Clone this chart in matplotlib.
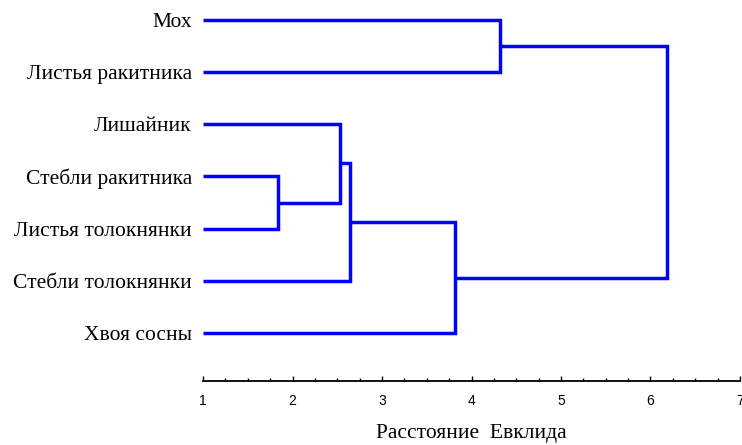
import numpy as np
import matplotlib.pyplot as plt
from matplotlib.ticker import MultipleLocator

### Data
labels = ['Мох', 'Листья ракитника', 'Лишайник', 'Стебли ракитника',
          'Листья толокнянки', 'Стебли толокнянки', 'Хвоя сосны']
# merge steps: (node a, node b, distance); new nodes get ids 7, 8, ...
merge_a = [3, 2, 8, 9, 0, 11]
merge_b = [4, 7, 5, 6, 1, 10]
merge_dist = [1.84, 2.53, 2.64, 3.82, 4.32, 6.18]

x_min, x_max = 1, 7

### Figure
fig = plt.figure(figsize=(7.42, 4.45), dpi=100)
ax = fig.add_axes([0.2736, 0.1438, 0.7237, 0.8465])

# leaf positions top to bottom, leaves start at the left edge of the axis
node_y = list(range(len(labels)))
node_x = [x_min] * len(labels)

for a, b, d in zip(merge_a, merge_b, merge_dist):
    ax.plot([node_x[a], d, d, node_x[b]], [node_y[a], node_y[a], node_y[b], node_y[b]],
            color='#0000ff', lw=2.5, solid_capstyle='butt', solid_joinstyle='miter')
    node_y.append((node_y[a] + node_y[b]) / 2)
    node_x.append(d)

ax.set_xlim(x_min, x_max)
ax.set_ylim(6.92, -0.3)

ax.set_yticks(range(len(labels)))
ax.set_yticklabels(labels, family='Liberation Serif', fontsize=15.5)
ax.tick_params(axis='y', length=0, pad=8)

ax.xaxis.set_major_locator(MultipleLocator(1))
ax.xaxis.set_minor_locator(MultipleLocator(0.25))
ax.tick_params(axis='x', which='major', direction='in', length=3.5, width=1, pad=9,
               labelsize=10)
ax.tick_params(axis='x', which='minor', direction='in', length=2.2, width=1)
for t in ax.get_xticklabels():
    t.set_family('Liberation Sans')

for s in ['top', 'right', 'left']:
    ax.spines[s].set_visible(False)
ax.spines['bottom'].set_linewidth(1.3)
ax.spines['bottom'].set_bounds(x_min, x_max)

ax.set_xlabel('Расстояние  Евклида', family='Liberation Serif', fontsize=15.5, labelpad=12)

plt.savefig('out.png', dpi=100)
